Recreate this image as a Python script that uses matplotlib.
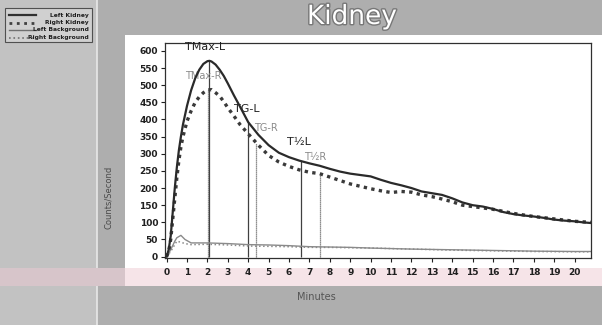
import numpy as np
import matplotlib
matplotlib.use("Agg")
import matplotlib.pyplot as plt
import matplotlib.patheffects as pe
from matplotlib.patches import Rectangle
from matplotlib.lines import Line2D

# ---------------- data ----------------
t_left = [0, 0.1, 0.2, 0.3, 0.4, 0.5, 0.6, 0.7, 0.8, 1.0, 1.2, 1.4, 1.6, 1.8, 2.0, 2.1, 2.2,
          2.4, 2.6, 2.8, 3.0, 3.3, 3.6, 4.0, 4.5, 5.0, 5.5, 6.0, 6.5, 7.0, 7.5, 8.0, 8.5, 9.0,
          9.5, 10.0, 10.5, 11.0, 11.5, 12.0, 12.5, 13.0, 13.5, 14.0, 14.5, 15.0, 15.5, 16.0,
          16.5, 17.0, 17.5, 18.0, 18.5, 19.0, 19.5, 20.0, 20.4, 20.8]
left_kidney = [0, 20, 60, 130, 200, 260, 310, 350, 385, 440, 485, 520, 545, 562, 570, 571, 569,
               560, 545, 527, 505, 470, 437, 392, 355, 325, 303, 290, 280, 272, 265, 256, 248, 242,
               238, 234, 224, 215, 208, 200, 190, 185, 180, 170, 158, 150, 146, 139, 130, 124, 120,
               117, 113, 108, 105, 103, 100, 98]

t_right = [0, 0.1, 0.2, 0.3, 0.4, 0.5, 0.6, 0.7, 0.8, 1.0, 1.2, 1.4, 1.6, 1.8, 2.0, 2.2, 2.4,
           2.6, 2.8, 3.0, 3.3, 3.6, 4.0, 4.5, 5.0, 5.5, 6.0, 6.5, 7.0, 7.5, 8.0, 8.5, 9.0, 9.5,
           10.0, 10.5, 11.0, 11.5, 12.0, 12.5, 13.0, 13.5, 14.0, 14.5, 15.0, 16.0, 17.0, 18.0,
           19.0, 20.0, 20.8]
right_kidney = [0, 15, 50, 110, 170, 230, 280, 320, 350, 395, 425, 450, 466, 478, 486, 487, 478,
                468, 452, 434, 410, 385, 358, 325, 295, 276, 263, 253, 246, 242, 232, 222, 212, 205,
                198, 192, 187, 190, 188, 180, 175, 168, 160, 150, 146, 138, 126, 117, 110, 103, 100]

t_bkg = [0, 0.2, 0.4, 0.5, 0.7, 0.9, 1.2, 2.0, 3.0, 4.0, 5.0, 6.0, 7.0, 8.0, 9.0, 10.0, 12.0,
         14.0, 16.0, 18.0, 20.0, 20.8]
left_background = [0, 20, 45, 55, 62, 50, 40, 40, 38, 35, 34, 32, 29, 28, 27, 25, 22, 20, 18,
                   16, 15, 15]
right_background = [0, 15, 35, 45, 42, 38, 35, 36, 34, 31, 30, 29, 27, 27, 26, 25, 22, 19, 17,
                    15, 14, 14]

marker_names = ["TMax-L", "TMax-R", "TG-L", "TG-R", "T½L", "T½R"]
marker_times = [2.1, 2.05, 4.0, 4.4, 6.6, 7.5]
marker_side = ["L", "R", "L", "R", "L", "R"]
label_pos = [(0.9, 612), (0.9, 527), (3.3, 431), (4.3, 376), (5.9, 335), (6.75, 291)]

legend_labels = ["Left Kidney", "Right Kidney", "Left Background", "Right Background"]
x_ticks = list(range(0, 21))
y_ticks = list(range(0, 601, 50))

# ---------------- figure ----------------
W, H = 602, 325
fig = plt.figure(figsize=(W / 100, H / 100), dpi=100)
fig.patch.set_facecolor("#aeaeae")

def fx(px):
    return px / W

def fy(py):
    return 1 - py / H

# background panels
fig.add_artist(Rectangle((0, 0), fx(97), 1, transform=fig.transFigure,
                         facecolor="#c2c2c2", edgecolor="none", zorder=0))
fig.add_artist(Line2D([fx(97), fx(97)], [fy(325), fy(0)], transform=fig.transFigure,
                      color="#e8e8e8", lw=1.2, zorder=1))
fig.add_artist(Rectangle((fx(125), fy(286)), 1 - fx(125), fy(35) - fy(286),
                         transform=fig.transFigure, facecolor="white", edgecolor="none", zorder=1))
fig.add_artist(Rectangle((fx(125), fy(286)), 1 - fx(125), fy(268) - fy(286),
                         transform=fig.transFigure, facecolor="#f6e4e8", edgecolor="none", zorder=1))
fig.add_artist(Rectangle((0, fy(286)), fx(125), fy(268) - fy(286),
                         transform=fig.transFigure, facecolor="#d7c5ca", edgecolor="none", zorder=1))

# title
fig.text(fx(352), fy(17), "Kidney", fontsize=19, color="white", ha="center", va="center",
         path_effects=[pe.withStroke(linewidth=2, foreground="#777777")], zorder=5)

# legend (manual)
fig.add_artist(Rectangle((fx(5), fy(42)), fx(87), fy(8) - fy(42), transform=fig.transFigure,
                         facecolor="#d0d0d0", edgecolor="#505050", lw=0.8, zorder=2))
leg_styles = [dict(color="#303030", lw=1.6, ls="-"),
              dict(color="#404040", lw=2.0, ls=":"),
              dict(color="#707070", lw=1.0, ls="-"),
              dict(color="#707070", lw=1.2, ls=":")]
for i, (lab, st) in enumerate(zip(legend_labels, leg_styles)):
    yy = fy(15 + i * 7.5)
    fig.add_artist(Line2D([fx(9), fx(36)], [yy, yy], transform=fig.transFigure, zorder=3, **st))
    fig.text(fx(89), yy, lab, fontsize=4.3, color="#202020", ha="right", va="center",
             fontweight="bold", zorder=3)

# axes
ax = fig.add_axes([fx(165), fy(258), fx(591) - fx(165), fy(43) - fy(258)])
ax.set_facecolor("white")
ax.set_zorder(4)
ax.set_xlim(-0.08, 20.8)
ax.set_ylim(-4, 623)

ax.plot(t_bkg, right_background, color="#8a8a8a", lw=1.1, ls=":", zorder=2)
ax.plot(t_bkg, left_background, color="#8a8a8a", lw=1.0, ls="-", zorder=2)
ax.plot(t_right, right_kidney, color="#3a3a3a", lw=2.4, ls=(0, (1, 1.3)), zorder=3)
ax.plot(t_left, left_kidney, color="#2a2a2a", lw=1.6, ls="-", zorder=4)

for name, tm, side, (lx, ly) in zip(marker_names, marker_times, marker_side, label_pos):
    if side == "L":
        v = np.interp(tm, t_left, left_kidney)
        ax.vlines(tm, 0, v, color="#404040", lw=0.9, zorder=1)
        ax.text(lx, ly, name, fontsize=8, color="#202020", va="center", ha="left")
    else:
        v = np.interp(tm, t_right, right_kidney)
        ax.vlines(tm, 0, v, color="#6a6a6a", lw=0.9, ls=(0, (1, 0.6)), zorder=1)
        ax.text(lx, ly, name, fontsize=7, color="#8a8a8a", va="center", ha="left")

ax.set_xticks(x_ticks)
ax.set_yticks(y_ticks)
ax.tick_params(axis="both", labelsize=6.5, colors="#202020", length=3, width=0.8, pad=2)
for lab in ax.get_xticklabels() + ax.get_yticklabels():
    lab.set_fontweight("bold")
ax.tick_params(axis="x", pad=4)
for s in ax.spines.values():
    s.set_color("#303030")
    s.set_linewidth(0.9)

fig.text(fx(109), fy(197), "Counts/Second", rotation=90, fontsize=6, color="#4a4a4a",
         ha="center", va="center")
fig.text(fx(316), fy(297), "Minutes", fontsize=7, color="#555555", ha="center", va="center")

fig.savefig("out.png", dpi=100, facecolor=fig.get_facecolor())
